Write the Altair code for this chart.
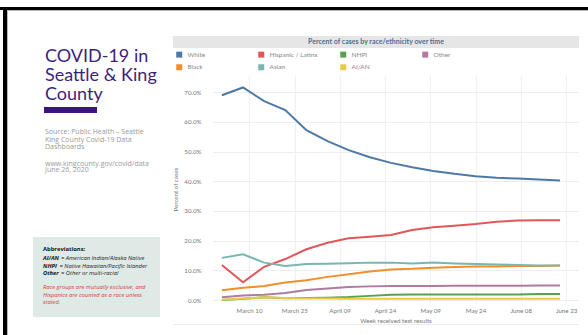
import altair as alt
import pandas as pd

# ---------------- data ----------------
weeks = ["2020-03-01", "2020-03-08", "2020-03-15", "2020-03-22", "2020-03-29",
         "2020-04-05", "2020-04-12", "2020-04-19", "2020-04-26", "2020-05-03",
         "2020-05-10", "2020-05-17", "2020-05-24", "2020-05-31", "2020-06-07",
         "2020-06-14", "2020-06-21"]
white =    [69.0, 71.6, 67.0, 64.0, 57.2, 53.5, 50.5, 48.1, 46.2, 44.7, 43.5, 42.5, 41.7, 41.2, 40.9, 40.6, 40.3]
hispanic = [11.8, 6.0, 11.2, 13.8, 17.1, 19.3, 20.8, 21.3, 21.9, 23.6, 24.5, 25.0, 25.6, 26.4, 26.8, 26.9, 26.9]
asian =    [14.2, 15.4, 12.6, 11.5, 12.1, 12.2, 12.4, 12.6, 12.6, 12.3, 12.6, 12.3, 12.1, 12.0, 11.8, 11.6, 11.6]
black =    [3.3, 4.1, 4.7, 5.9, 6.7, 7.8, 8.7, 9.6, 10.3, 10.5, 10.9, 11.1, 11.3, 11.3, 11.5, 11.5, 11.6]
other =    [0.9, 1.5, 1.8, 2.4, 3.4, 3.9, 4.4, 4.6, 4.7, 4.7, 4.7, 4.8, 4.8, 4.8, 4.8, 4.9, 4.9]
nhpi =     [0.0, 0.4, 0.9, 0.6, 0.7, 0.8, 1.0, 1.4, 1.8, 1.9, 1.9, 1.9, 1.9, 1.9, 1.9, 2.0, 2.0]
aian =     [0.1, 0.5, 0.9, 0.7, 0.5, 0.5, 0.4, 0.4, 0.4, 0.4, 0.4, 0.4, 0.4, 0.4, 0.4, 0.4, 0.4]

groups = ["White", "Hispanic / Latinx", "NHPI", "Other", "Black", "Asian", "AI/AN"]
series = [white, hispanic, nhpi, other, black, asian, aian]
colors = ["#4e79a7", "#e15759", "#59a14f", "#b07aa1", "#f28e2b", "#76b7b2", "#edc948"]

y_ticks = [0, 10, 20, 30, 40, 50, 60, 70]
x_ticks = [(3, 10), (3, 25), (4, 9), (4, 24), (5, 9), (5, 24), (6, 8), (6, 23)]

rows = []
for g, vals in zip(groups, series):
    for d, v in zip(weeks, vals):
        rows.append({"week": d, "group": g, "pct": v})
df = pd.DataFrame(rows)

# ---------------- layout constants ----------------
PL, PT = 212.8, 75.0
W, H = 365.4, 228.0
FONT = "Lato"
SFONT = "Open Sans"

one = alt.Data(values=[{}])


def rect(x, x2, y, y2, color):
    return alt.Chart(one).mark_rect(color=color).encode(
        x=alt.value(x - PL), x2=alt.value(x2 - PL),
        y=alt.value(y - PT), y2=alt.value(y2 - PT))


def txt(t, x, y, size, color, font=SFONT, weight="normal", style="normal",
        align="left", baseline="alphabetic"):
    return alt.Chart(one).mark_text(
        text=t, font=font, fontSize=size, color=color, fontWeight=weight,
        fontStyle=style, align=align, baseline=baseline).encode(
        x=alt.value(x - PL), y=alt.value(y - PT))


lines = alt.Chart(df).mark_line(strokeWidth=2).encode(
    x=alt.X("week:T",
            scale=alt.Scale(type="utc", domain=[alt.DateTime(year=2020, month=2, date=27, utc=True),
                                                alt.DateTime(year=2020, month=6, date=27, utc=True)]),
            axis=alt.Axis(values=[alt.DateTime(year=2020, month=m, date=d, utc=True) for m, d in x_ticks],
                          format="%B %d", title="Week received test results",
                          labelFont=FONT, labelFontSize=6.2, labelColor="#777",
                          titleFont=FONT, titleFontSize=6.2, titleColor="#777",
                          titleFontWeight="normal", labelPadding=4, titlePadding=4,
                          ticks=False, domain=False, grid=True, gridColor="#eeeeee",
                          labelFlush=False)),
    y=alt.Y("pct:Q",
            scale=alt.Scale(domain=[-1, 75.8], nice=False, zero=False),
            axis=alt.Axis(values=y_ticks, labelExpr="format(datum.value, '.1f') + '%'",
                          title="Percent of cases",
                          labelFont=FONT, labelFontSize=6.2, labelColor="#777",
                          titleFont=FONT, titleFontSize=6.2, titleColor="#777",
                          titleFontWeight="normal", labelPadding=11.8, titlePadding=5,
                          ticks=False, domain=False, grid=True, gridColor="#eeeeee")),
    color=alt.Color("group:N", scale=alt.Scale(domain=groups, range=colors),
                    legend=alt.Legend(orient="none", legendX=176 - PL, legendY=51 - PT,
                                      direction="horizontal",
                                      columns=4, gridAlign="all", columnPadding=16,
                                      rowPadding=-7.5, title=None, symbolType="square",
                                      symbolSize=4, symbolStrokeWidth=4,
                                      labelFont=FONT, labelFontSize=6.5,
                                      labelColor="#888", labelOffset=5)),
    detail="group:N",
)

layers = [
    # slide frame
    rect(0, 588, 7, 10, "#000000"),
    rect(3, 7, 7, 335, "#000000"),
    rect(7, 588, 10, 11, "#bbbbbb"),
    rect(7, 8, 10, 335, "#bbbbbb"),
    # chart title bar and bottom rule
    rect(173, 579, 36, 48, "#e6e6e6"),
    rect(173, 579, 324, 325, "#ececec"),
    # abbreviations box
    rect(33, 160, 237, 317, "#dfeae7"),
    # purple accent bar
    rect(44, 97, 107, 113, "#3b1480"),
    lines,
    txt("Percent of cases by race/ethnicity over time", 376, 42, 7, "#4f6d94",
        font=FONT, weight="bold", align="center", baseline="middle"),
    # slide title
    txt("COVID-19 in", 45, 62, 18, "#3e1f7d", font=FONT),
    txt("Seattle & King", 45, 81, 18, "#3e1f7d", font=FONT),
    txt("County", 45, 100, 18, "#3e1f7d", font=FONT),
    # source
    txt("Source: Public Health \u2013 Seattle", 45, 134, 7, "#9a9a9a"),
    txt("King County Covid-19 Data", 45, 141.5, 7, "#9a9a9a"),
    txt("Dashboards", 45, 149, 7, "#9a9a9a"),
    txt("www.kingcounty.gov/covid/data", 45, 165.5, 7, "#9a9a9a"),
    txt("June 26, 2020", 45, 172, 7, "#9a9a9a"),
    # abbreviations
    txt("Abbreviations:", 43, 251, 5.8, "#111111", weight="bold"),
    txt("AI/AN", 43, 260, 5.8, "#111111", weight="bold", style="italic"),
    txt("= American Indian/Alaska Native", 61, 260, 5.8, "#222222", style="italic"),
    txt("NHPI", 43, 267.5, 5.8, "#111111", weight="bold", style="italic"),
    txt("= Native Hawaiian/Pacific Islander", 59.5, 267.5, 5.8, "#222222", style="italic"),
    txt("Other", 43, 275, 5.8, "#111111", weight="bold", style="italic"),
    txt("= Other or multi-racial", 61, 275, 5.8, "#222222", style="italic"),
    txt("Race groups are mutually exclusive, and", 43, 289, 5.8, "#d63b3b", style="italic"),
    txt("Hispanics are counted as a race unless", 43, 296.5, 5.8, "#d63b3b", style="italic"),
    txt("stated.", 43, 304, 5.8, "#d63b3b", style="italic"),
]

chart = alt.layer(*layers).properties(
    width=W, height=H,
    padding={"left": PL, "top": PT, "right": 588 - PL - W, "bottom": 335 - PT - H},
    autosize=alt.AutoSizeParams(type="none"),
    background="white",
).configure_view(stroke=None)

chart.save("out.html", embed_options={"renderer": "svg", "actions": False})
